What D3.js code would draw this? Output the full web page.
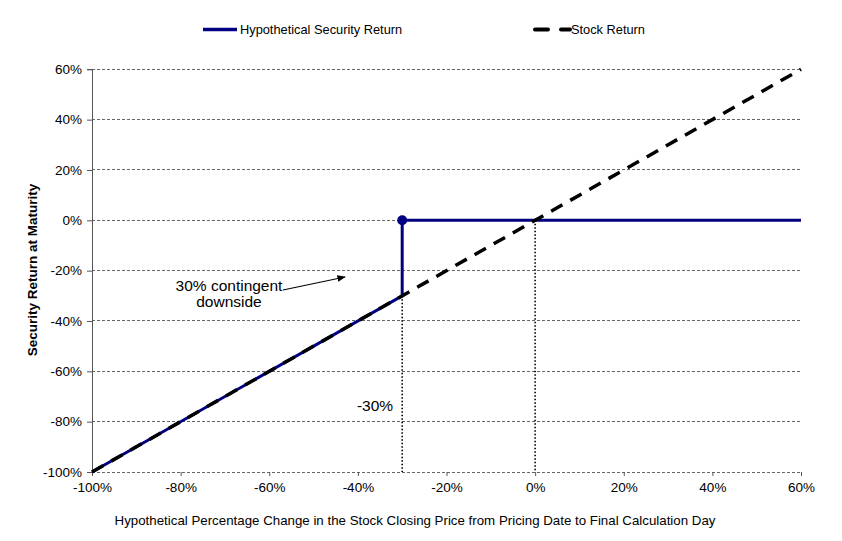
<!DOCTYPE html>
<html><head><meta charset="utf-8">
<script src="https://cdn.jsdelivr.net/npm/d3@7"></script>
<style>
body{margin:0;background:#fff;}
text{font-family:"Liberation Sans",Arial,sans-serif;fill:#000;}
</style></head>
<body><svg id="c" width="842" height="541"></svg>
<script>
const xTicks = [-100,-80,-60,-40,-20,0,20,40,60];
const yTicks = [-100,-80,-60,-40,-20,0,20,40,60];
const securityX = [-100,-30,-30,60];
const securityY = [-100,-30,0,0];
const stockX = [-100,60];
const stockY = [-100,60];
const markerPoint = [-30,0];
const guideLines = [{x:-30,y0:-30},{x:0,y0:0}];

const svg = d3.select("#c");
const m = {l:92,r:801,t:69.3,b:472};
const x = d3.scaleLinear().domain([-100,60]).range([m.l,m.r]);
const y = d3.scaleLinear().domain([-100,60]).range([m.b,m.t]);

// gridlines
svg.append("g").selectAll("line").data(yTicks).join("line")
  .attr("x1",m.l).attr("x2",m.r).attr("y1",d=>y(d)).attr("y2",d=>y(d))
  .attr("stroke","#666").attr("stroke-width",1).attr("stroke-dasharray","3,2").attr("shape-rendering","crispEdges");

// y axis
const ya = svg.append("g").attr("transform",`translate(${m.l},0)`)
  .call(d3.axisLeft(y).tickValues(yTicks).tickFormat(d=>d+"%").tickSize(5).tickPadding(5));
ya.select(".domain").attr("stroke","#555").attr("shape-rendering","crispEdges");
ya.selectAll(".tick line").attr("stroke","#555");
ya.selectAll("text").attr("font-size",13.5).attr("font-family","Liberation Sans, Arial");

// x axis
const xa = svg.append("g").attr("transform",`translate(0,${m.b})`)
  .call(d3.axisBottom(x).tickValues(xTicks).tickFormat(d=>d+"%").tickSize(4).tickPadding(6));
xa.select(".domain").remove();
xa.selectAll(".tick line").attr("stroke","#555");
xa.selectAll("text").attr("font-size",13.5).attr("font-family","Liberation Sans, Arial");

// dotted guide lines
svg.append("g").selectAll("line").data(guideLines).join("line")
  .attr("x1",d=>x(d.x)).attr("x2",d=>x(d.x)).attr("y1",d=>y(d.y0)).attr("y2",m.b)
  .attr("stroke","#000").attr("stroke-width",1.6).attr("stroke-dasharray","1.5,2");

const line = d3.line().x(d=>x(d[0])).y(d=>y(d[1]));
// security line
svg.append("path").datum(securityX.map((v,i)=>[v,securityY[i]]))
  .attr("d",line).attr("fill","none").attr("stroke","#000080").attr("stroke-width",3);
// stock line
svg.append("path").datum(stockX.map((v,i)=>[v,stockY[i]]))
  .attr("d",line).attr("fill","none").attr("stroke","#000").attr("stroke-width",3.5)
  .attr("stroke-dasharray","13,9");
// marker
svg.append("circle").attr("cx",x(markerPoint[0])).attr("cy",y(markerPoint[1])).attr("r",5).attr("fill","#000080");

// annotations
svg.append("defs").append("marker").attr("id","ah").attr("viewBox","0 0 10 10").attr("refX",9).attr("refY",5)
  .attr("markerWidth",7).attr("markerHeight",7).attr("orient","auto")
  .append("path").attr("d","M0,1 L10,5 L0,9 z").attr("fill","#000");
svg.append("line").attr("x1",283).attr("y1",290).attr("x2",345).attr("y2",277)
  .attr("stroke","#000").attr("stroke-width",1.2).attr("marker-end","url(#ah)");
svg.append("text").attr("x",229).attr("y",291).attr("text-anchor","middle").attr("font-size",15.5).text("30% contingent");
svg.append("text").attr("x",229).attr("y",307).attr("text-anchor","middle").attr("font-size",15.5).text("downside");
svg.append("text").attr("x",375).attr("y",411).attr("text-anchor","middle").attr("font-size",15.5).text("-30%");

// axis titles
svg.append("text").attr("transform","translate(37,270) rotate(-90)").attr("text-anchor","middle")
  .attr("font-size",13.5).attr("font-weight","bold").text("Security Return at Maturity");
svg.append("text").attr("x",415).attr("y",525).attr("text-anchor","middle").attr("font-size",13.3)
  .text("Hypothetical Percentage Change in the Stock Closing Price from Pricing Date to Final Calculation Day");

// legend
const lg = svg.append("g");
lg.append("line").attr("x1",203).attr("x2",237).attr("y1",29.5).attr("y2",29.5).attr("stroke","#000080").attr("stroke-width",3.5);
lg.append("text").attr("x",240).attr("y",34).attr("font-size",12.8).text("Hypothetical Security Return");
lg.append("line").attr("x1",535).attr("x2",570).attr("y1",29.5).attr("y2",29.5).attr("stroke","#000").attr("stroke-width",4)
  .attr("stroke-dasharray","13,13").attr("stroke-linecap","round");
lg.append("text").attr("x",571).attr("y",34).attr("font-size",12.8).text("Stock Return");
</script></body></html>
